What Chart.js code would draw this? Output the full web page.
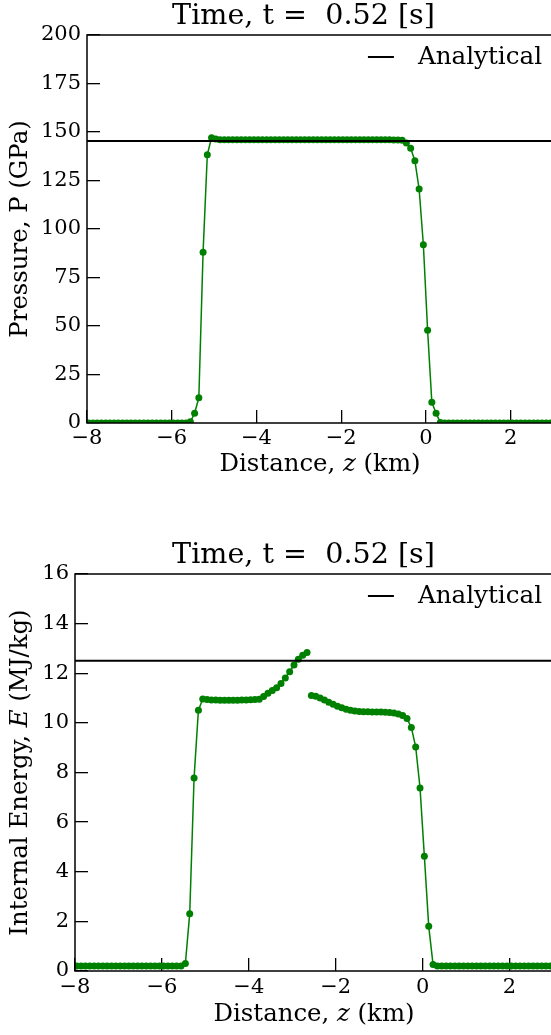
<!DOCTYPE html>
<html><head><meta charset="utf-8">
<script src="https://cdn.jsdelivr.net/npm/chart.js"></script>
<style>
 html, body { margin:0; padding:0; width:551px; height:1035px; overflow:hidden; background:#fff; }
 canvas { position:absolute; left:0; }
 #pChart { top:0; }
 #eChart { top:500px; }
</style>
</head>
<body>
<canvas id="pChart" width="560" height="500"></canvas>
<canvas id="eChart" width="560" height="535"></canvas>
<script>
// grid positions (km)
const distance = [
 -7.96,-7.86,-7.76,-7.66,-7.56,-7.46,-7.36,-7.26,-7.16,-7.06,
 -6.96,-6.86,-6.76,-6.66,-6.56,-6.46,-6.36,-6.26,-6.16,-6.06,
 -5.96,-5.86,-5.76,-5.66,-5.56,-5.46,-5.36,-5.26,-5.16,-5.06,
 -4.96,-4.86,-4.76,-4.66,-4.56,-4.46,-4.36,-4.26,-4.16,-4.06,
 -3.96,-3.86,-3.76,-3.66,-3.56,-3.46,-3.36,-3.26,-3.16,-3.06,
 -2.96,-2.86,-2.76,-2.66,-2.56,-2.46,-2.36,-2.26,-2.16,-2.06,
 -1.96,-1.86,-1.76,-1.66,-1.56,-1.46,-1.36,-1.26,-1.16,-1.06,
 -0.96,-0.86,-0.76,-0.66,-0.56,-0.46,-0.36,-0.26,-0.16,-0.06,
 0.04,0.14,0.24,0.34,0.44,0.54,0.64,0.74,0.84,0.94,
 1.04,1.14,1.24,1.34,1.44,1.54,1.64,1.74,1.84,1.94,
 2.04,2.14,2.24,2.34,2.44,2.54,2.64,2.74,2.84,2.94,
 3.04
];
// pressure (GPa) at each distance
const pressure = [
 0,0,0,0,0,0,0,0,0,0,
 0,0,0,0,0,0,0,0,0,0,
 0,0,0,0,0.6,5,13,88,138.3,147.1,
 146.4,146.0,146.0,146.0,146.0,146.0,146.0,146.0,146.0,146.0,
 146.0,146.0,146.0,146.0,146.0,146.0,146.0,146.0,146.0,146.0,
 146.0,146.0,146.0,146.0,146.0,146.0,146.0,146.0,146.0,146.0,
 146.0,146.0,146.0,146.0,146.0,146.0,146.0,146.0,146.0,146.0,
 146.0,146.0,145.9,145.9,145.7,144.3,141.6,135.2,120.6,91.9,
 47.8,10.7,5.0,0.3,0,0,0,0,0,0,
 0,0,0,0,0,0,0,0,0,0,
 0,0,0,0,0,0,0,0,0,0,
 0
];
// internal energy (MJ/kg), two material segments
const energyLeft = [
 0.2,0.2,0.2,0.2,0.2,0.2,0.2,0.2,0.2,0.2,
 0.2,0.2,0.2,0.2,0.2,0.2,0.2,0.2,0.2,0.2,
 0.2,0.2,0.2,0.2,0.2,0.3,2.31,7.78,10.51,10.96,
 10.94,10.92,10.92,10.91,10.91,10.91,10.91,10.91,10.92,10.92,
 10.93,10.94,10.95,11.06,11.19,11.30,11.42,11.59,11.81,12.06,
 12.33,12.56,12.73,12.84
];
const energyRight = [
 11.10,11.07,11.00,10.92,10.83,10.75,
 10.67,10.61,10.55,10.51,10.48,10.46,10.45,10.45,10.44,10.44,
 10.44,10.43,10.42,10.40,10.36,10.30,10.18,9.81,9.03,7.38,
 4.62,1.80,0.26,0.2,0.2,0.2,0.2,0.2,0.2,0.2,
 0.2,0.2,0.2,0.2,0.2,0.2,0.2,0.2,0.2,0.2,
 0.2,0.2,0.2,0.2,0.2,0.2,0.2,0.2,0.2,0.2,
 0.2
];
const pressureAnalytical = 145.3;
const energyAnalytical = 12.5;
const xRange = [-8, 3];
const pressureRange = [0, 200];
const energyRange = [0, 16];
const titleText = 'Time, t =  0.52 [s]';
const legendText = 'Analytical';

const serif = '"DejaVu Serif", serif';
const green = '#008000';
const minus = v => String(v).replace('-', '\u2212');

function pts(xs, ys) { return ys.map((y, i) => ({x: xs[i], y: y})); }

function drawParts(ctx, parts, size, cx, cy) {
  let total = 0;
  parts.forEach(p => { ctx.font = (p[1] ? 'italic ' : '') + size + 'px ' + serif; total += ctx.measureText(p[0]).width; });
  let x = cx - total / 2;
  parts.forEach(p => {
    ctx.font = (p[1] ? 'italic ' : '') + size + 'px ' + serif;
    ctx.fillText(p[0], x, cy);
    x += ctx.measureText(p[0]).width;
  });
}

function figPlugin(info) {
  return {
    id: 'fig',
    afterDatasetsDraw(chart) {
      const a = chart.chartArea, ctx = chart.ctx;
      ctx.save();
      ctx.strokeStyle = '#000';
      ctx.lineWidth = 1.5;
      ctx.strokeRect(a.left, a.top, a.right - a.left, a.bottom - a.top);
      ctx.restore();
    },
    afterDraw(chart) {
      const a = chart.chartArea, ctx = chart.ctx;
      ctx.save();
      ctx.fillStyle = '#000';
      ctx.textAlign = 'left';
      ctx.textBaseline = 'middle';
      drawParts(ctx, [[titleText, false]], 28.6, 303.5, info.titleY);
      drawParts(ctx, info.xTitle, 24.4, (a.left + a.right) / 2, a.bottom + info.xTitleGap);
      ctx.save();
      ctx.translate(21, (a.top + a.bottom) / 2);
      ctx.rotate(-Math.PI / 2);
      drawParts(ctx, info.yTitle, 24.4, 0, 0);
      ctx.restore();
      // legend
      const ds = chart.data.datasets[0];
      ctx.font = '24.6px ' + serif;
      const tw = ctx.measureText(ds.label).width;
      const tx = a.right - 11 - tw, ly = a.top + 22;
      ctx.strokeStyle = ds.borderColor;
      ctx.lineWidth = ds.borderWidth;
      ctx.beginPath();
      ctx.moveTo(tx - 50, ly);
      ctx.lineTo(tx - 24, ly);
      ctx.stroke();
      ctx.fillText(ds.label, tx, ly + 1);
      ctx.restore();
    }
  };
}

function makeChart(id, sets, yRange, yStep, analytical, info) {
  const datasets = [{
    label: legendText,
    data: xRange.map(x => ({x: x, y: analytical})),
    borderColor: '#000', borderWidth: 2, pointRadius: 0
  }];
  sets.forEach(s => datasets.push({
    label: 'numerical',
    data: s,
    borderColor: green, borderWidth: 1.5,
    pointRadius: 3.5, pointBackgroundColor: green, pointBorderWidth: 0
  }));
  const tickFont = {family: serif, size: 21};
  return new Chart(document.getElementById(id), {
    type: 'line',
    data: {datasets: datasets},
    options: {
      responsive: false, animation: false, devicePixelRatio: 1,
      layout: {padding: {left: 0, top: info.padTop, right: 7, bottom: 0}},
      plugins: {legend: {display: false}, tooltip: {enabled: false}},
      scales: {
        x: {
          type: 'linear', min: xRange[0], max: xRange[1],
          border: {display: false},
          grid: {drawOnChartArea: false, drawTicks: true, tickLength: -13, color: '#000', lineWidth: 1.3},
          ticks: {stepSize: 2, includeBounds: false, color: '#000', font: tickFont, padding: info.xPad, maxRotation: 0,
                  callback: v => minus(v)},
          afterFit: s => { s.height = info.xHeight; }
        },
        y: {
          min: yRange[0], max: yRange[1],
          border: {display: false},
          grid: {drawOnChartArea: false, drawTicks: true, tickLength: -13, color: '#000', lineWidth: 1.3},
          ticks: {stepSize: yStep, color: '#000', font: tickFont, padding: 19},
          afterFit: s => { s.width = info.yWidth; }
        }
      }
    },
    plugins: [figPlugin(info)]
  });
}

makeChart('pChart', [pts(distance, pressure)], pressureRange, 25, pressureAnalytical, {
  padTop: 35, xHeight: 77, yWidth: 87, xPad: 16, titleY: 17, xTitleGap: 42,
  xTitle: [['Distance, ', false], ['z', true], [' (km)', false]],
  yTitle: [['Pressure, P (GPa)', false]]
});

makeChart('eChart', [pts(distance.slice(0, energyLeft.length), energyLeft),
                     pts(distance.slice(energyLeft.length), energyRight)],
  energyRange, 2, energyAnalytical, {
  padTop: 74, xHeight: 64, yWidth: 75, xPad: 17, titleY: 56, xTitleGap: 44,
  xTitle: [['Distance, ', false], ['z', true], [' (km)', false]],
  yTitle: [['Internal Energy, ', false], ['E', true], [' (MJ/kg)', false]]
});
</script>
</body></html>
